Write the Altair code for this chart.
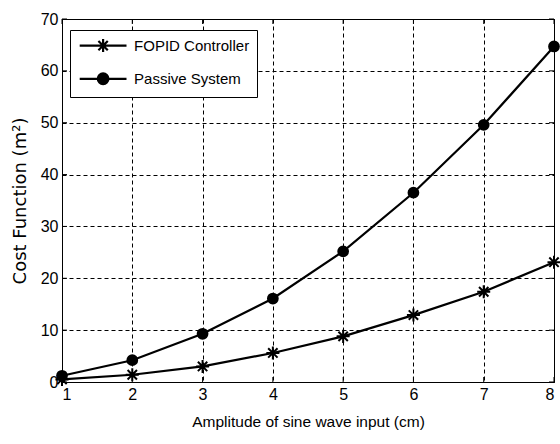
import altair as alt
import pandas as pd

# Cost function versus sine-wave amplitude for the two suspension set-ups
amplitude = [1, 2, 3, 4, 5, 6, 7, 8]
fopid = [0.5, 1.4, 3.0, 5.6, 8.8, 12.9, 17.4, 23.1]
passive = [1.2, 4.2, 9.3, 16.1, 25.2, 36.5, 49.6, 64.7]
series_names = ["FOPID Controller", "Passive System"]
x_ticks = [1, 2, 3, 4, 5, 6, 7, 8]
y_ticks = [0, 10, 20, 30, 40, 50, 60, 70]

df = pd.DataFrame(
    {
        "amplitude": amplitude * 2,
        "cost": fopid + passive,
        "series": [series_names[0]] * len(amplitude) + [series_names[1]] * len(amplitude),
    }
)
xt = pd.DataFrame({"amplitude": x_ticks})
yt = pd.DataFrame({"cost": y_ticks})

FONT = "Liberation Sans"
TICK = 5  # inward tick length, px

# marker outlines: asterisk and filled dot
STAR = "M0,-1L0,1M-1,0L1,0M-0.72,-0.72L0.72,0.72M-0.72,0.72L0.72,-0.72"


def ring(r):
    return f"M{r},0A{r},{r},0,1,1,-{r},0A{r},{r},0,1,1,{r},0"


# legend glyphs: a line segment running through the marker
# (the legend dot is built from nested stroked rings so it reads as solid)
STAR_KEY = "M-3.6,0L3.6,0" + "M0,-1L0,1M-0.72,-0.72L0.72,0.72M-0.72,0.72L0.72,-0.72"
DOT_KEY = "M-3.6,0L3.6,0" + ring(0.82) + ring(0.55) + ring(0.28) + ring(0.05)

x_scale = alt.Scale(domain=[1, 8], nice=False)
y_scale = alt.Scale(domain=[0, 70], nice=False)

x_enc = alt.X(
    "amplitude:Q",
    scale=x_scale,
    axis=alt.Axis(values=x_ticks, title="Amplitude of sine wave input (cm)", format="d"),
)
y_enc = alt.Y(
    "cost:Q",
    scale=y_scale,
    axis=alt.Axis(values=y_ticks, title="Cost Function (m²)", format="d"),
)

lines = (
    alt.Chart(df)
    .mark_line(color="black", strokeWidth=2.2)
    .encode(x=x_enc, y=y_enc, detail="series:N")
)

markers = (
    alt.Chart(df)
    .mark_point(fill="black", stroke="black", strokeWidth=2, opacity=1)
    .encode(
        x="amplitude:Q",
        y="cost:Q",
        shape=alt.Shape(
            "series:N",
            scale=alt.Scale(domain=series_names, range=[STAR, "circle"]),
            legend=None,
        ),
        size=alt.Size(
            "series:N",
            scale=alt.Scale(domain=series_names, range=[170, 95]),
            legend=None,
        ),
    )
)

key = (
    alt.Chart(df)
    .mark_point(filled=False, color="black", opacity=0)
    .encode(
        x="amplitude:Q",
        y="cost:Q",
        shape=alt.Shape(
            "series:N",
            scale=alt.Scale(domain=series_names, range=[STAR_KEY, DOT_KEY]),
            legend=alt.Legend(
                title=None,
                orient="none",
                legendX=8,
                legendY=11,
                direction="vertical",
                fillColor="white",
                strokeColor="black",
                padding=7.6,
                symbolOffset=17.5,
                symbolSize=169,
                symbolStrokeWidth=2.2,
                symbolStrokeColor="black",
                symbolOpacity=1,
                labelOffset=23,
                labelFont=FONT,
                labelFontSize=15,
                labelColor="black",
                rowPadding=12.2,
            ),
        ),
    )
)

# short inward ticks on all four sides of the frame
tick_style = dict(color="black", strokeWidth=1)
ticks_bottom = alt.Chart(xt).mark_rule(**tick_style).encode(
    x=alt.X("amplitude:Q", scale=x_scale), y=alt.value(363), y2=alt.value(363 - TICK)
)
ticks_top = alt.Chart(xt).mark_rule(**tick_style).encode(
    x=alt.X("amplitude:Q", scale=x_scale), y=alt.value(0), y2=alt.value(TICK)
)
ticks_left = alt.Chart(yt).mark_rule(**tick_style).encode(
    y=alt.Y("cost:Q", scale=y_scale), x=alt.value(0), x2=alt.value(TICK)
)
ticks_right = alt.Chart(yt).mark_rule(**tick_style).encode(
    y=alt.Y("cost:Q", scale=y_scale), x=alt.value(492), x2=alt.value(492 - TICK)
)

chart = (
    alt.layer(lines, ticks_bottom, ticks_top, ticks_left, ticks_right, markers, key)
    .resolve_scale(shape="independent", size="independent")
    .properties(
        width=492,
        height=363,
        autosize=alt.AutoSizeParams(type="none"),
        padding={"left": 62, "top": 19, "right": 6, "bottom": 62},
        background="white",
    )
    .configure_view(stroke="black", strokeWidth=1)
    .configure_axis(
        domainColor="black",
        domainWidth=1,
        ticks=False,
        grid=True,
        gridColor="black",
        gridDash=[4, 3],
        gridWidth=1,
        gridOpacity=1,
        labelFont=FONT,
        labelFontSize=16,
        labelColor="black",
        labelPadding=4,
        titleColor="black",
        titleFontWeight="normal",
    )
    .configure_axisX(titleFont=FONT, titleFontSize=15.5, titlePadding=12)
    .configure_axisY(titleFont="DejaVu Sans", titleFontSize=18, titlePadding=11)
)

chart.save("out.html", embed_options={"renderer": "svg", "actions": False})
